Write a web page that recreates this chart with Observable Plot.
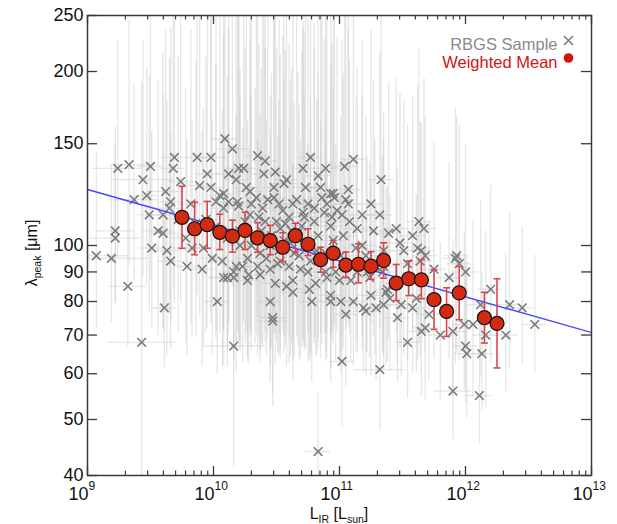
<!DOCTYPE html>
<html>
<head>
<meta charset="utf-8">
<script src="https://cdn.jsdelivr.net/npm/d3@7"></script>
<script src="https://cdn.jsdelivr.net/npm/@observablehq/plot@0.6"></script>
<style>
  html, body { margin: 0; padding: 0; background: white; }
  #chart { width: 617px; height: 524px; }
</style>
</head>
<body>
<div id="chart"></div>
<script>
// RBGS sample: [log10 L_IR, lambda_peak (um), upper lambda error (dex), L error (dex)]
const samples = [
[10.09,153,0.36,0.1],[10.15,147,0.34,0.12],[9.24,136,0.22,0.2],[9.33,138,0.25,0.15],[9.50,137,0.28,0.1],
[9.69,142,0.36,0.1],[9.87,142,0.34,0.08],[9.98,142,0.38,0.12],[9.68,136,0.3,0.1],[9.95,133,0.38,0.1],
[9.44,130,0.24,0.25],[9.74,129,0.3,0.1],[9.89,127,0.32,0.1],[9.62,124,0.28,0.15],[9.98,126,0.34,0.1],
[9.47,122,0.22,0.1],[9.37,120,0.2,0.2],[9.66,119,0.3,0.1],[9.65,116,0.26,0.12],[9.49,113,0.24,0.1],
[9.60,113,0.28,0.1],[9.22,106,0.18,0.15],[9.22,103,0.16,0.2],[9.56,106,0.26,0.12],[9.60,105,0.24,0.1],
[9.51,99,0.2,0.1],[9.63,98,0.26,0.1],[9.07,96,0.18,0.25],[9.19,95,0.16,0.3],[9.91,91,0.24,0.1],
[9.32,85,0.15,0.15],[10.12,133,0.4,0.1],[10.20,136,0.42,0.1],[10.08,123,0.34,0.08],[10.18,130,0.4,0.1],
[10.12,119,0.3,0.1],[10.20,117,0.34,0.12],[9.99,95,0.24,0.1],[10.07,94,0.26,0.1],[10.18,92,0.26,0.1],
[10.08,88,0.22,0.12],[10.16,88,0.2,0.1],[9.92,99,0.24,0.1],[9.83,99,0.22,0.15],[10.08,116,0.3,0.1],
[10.02,119,0.32,0.1],[10.05,122,0.34,0.1],[9.61,78,0.15,0.1],[9.43,68,0.45,0.27],[10.03,80,0.18,0.1],
[10.16,67,0.3,0.25],[10.45,80,0.2,0.1],[10.63,83,0.22,0.1],[10.47,75,0.22,0.1],[10.47,74,0.18,0.12],
[10.78,80,0.2,0.1],[10.93,82,0.18,0.1],[10.93,80,0.2,0.1],[11.01,80,0.18,0.1],[11.11,80,0.16,0.1],
[11.05,76,0.18,0.1],[11.21,77,0.16,0.1],[11.29,78,0.18,0.1],[11.35,79,0.16,0.1],[11.25,82,0.2,0.1],
[11.37,83,0.18,0.1],[11.02,63,0.16,0.1],[11.32,61,0.15,0.2],[10.83,44,0.1,0.1],[11.46,75,0.16,0.1],
[11.49,79,0.18,0.1],[11.58,78,0.16,0.15],[11.61,81,0.18,0.1],[11.71,76,0.16,0.1],[11.54,68,0.14,0.1],
[11.65,71,0.16,0.1],[11.68,72,0.18,0.1],[11.80,70,0.16,0.1],[11.90,71,0.16,0.1],[11.99,73,0.16,0.1],
[12.06,73,0.18,0.1],[12.00,67,0.14,0.1],[12.01,65,0.16,0.1],[12.13,65,0.14,0.1],[11.90,56,0.12,0.15],
[12.11,55,0.12,0.1],[12.16,70,0.18,0.1],[12.32,70,0.14,0.1],[12.35,79,0.16,0.1],[12.45,78,0.14,0.1],
[12.55,73,0.12,0.1],[12.12,79,0.18,0.1],[11.48,101,0.26,0.1],[11.58,104,0.24,0.1],[11.67,107,0.26,0.1],
[11.93,96,0.24,0.1],[12.00,90,0.22,0.1],[11.87,88,0.2,0.1],[12.20,84,0.18,0.1],[11.35,92,0.22,0.1],
[11.64,94,0.24,0.1],[11.46,86,0.2,0.1],[11.63,110,0.3,0.1],[11.45,107,0.26,0.1],[11.62,99,0.28,0.1],
[11.65,98,0.22,0.1],[11.68,96,0.24,0.1],[11.51,98,0.26,0.1],[11.92,95,0.26,0.1],[11.95,93,0.24,0.1],
[11.75,91,0.22,0.1],[11.54,93,0.24,0.1],[10.35,143,0.4,0.1],[10.41,140,0.42,0.1],[10.77,142,0.44,0.1],
[11.11,141,0.36,0.1],[10.71,136,0.42,0.1],[10.89,136,0.4,0.1],[10.83,132,0.4,0.1],[11.04,137,0.36,0.1],
[10.49,134,0.4,0.1],[10.40,133,0.36,0.1],[10.24,136,0.38,0.1],[10.56,128,0.38,0.1],[10.48,126,0.36,0.1],
[10.73,126,0.4,0.1],[11.07,125,0.32,0.1],[10.93,123,0.34,0.1],[10.96,121,0.32,0.1],[10.86,121,0.36,0.1],
[11.33,130,0.3,0.1],[11.25,118,0.3,0.1],[11.07,118,0.3,0.1],[10.34,121,0.34,0.1],[10.26,126,0.36,0.1],
[10.48,121,0.32,0.1],[10.63,118,0.34,0.1],[10.80,116,0.32,0.1],[11.32,113,0.28,0.1],[11.18,113,0.3,0.1],
[11.39,105,0.26,0.1],[11.02,113,0.3,0.1],[10.94,112,0.3,0.1],[10.71,114,0.32,0.1],[10.55,115,0.3,0.1],
[10.39,116,0.34,0.1],[10.27,95,0.24,0.1],[10.35,92,0.22,0.1],[10.45,91,0.24,0.1],[10.63,87,0.2,0.1],
[10.89,90,0.22,0.1],[11.00,87,0.2,0.1],[11.24,88,0.2,0.1],[11.34,90,0.2,0.1],[11.38,84,0.18,0.1],
[10.28,89,0.22,0.1],[10.49,86,0.2,0.1],[10.75,90,0.22,0.1],[11.14,90,0.2,0.1],[10.81,86,0.18,0.1],
[10.58,130,0.38,0.1],[10.95,123,0.34,0.1],[10.11,88,0.22,0.1],[10.16,90,0.22,0.1],[10.27,87,0.2,0.1],
[10.37,89,0.22,0.1],[10.51,93,0.22,0.1],[10.58,85,0.2,0.1],[10.76,84,0.18,0.1],[10.90,88,0.2,0.1],
[10.97,90,0.22,0.1],[11.09,87,0.2,0.1],[11.22,90,0.2,0.1],[11.40,81,0.18,0.1],[11.19,78,0.16,0.1],
[10.11,103,0.28,0.1],[10.21,100,0.26,0.1],[10.53,107,0.3,0.1],[10.72,112,0.32,0.1],[10.88,114,0.3,0.1],
[11.03,104,0.28,0.1],[11.14,107,0.28,0.1],[11.27,106,0.26,0.1],[11.35,98,0.24,0.1],[10.64,97,0.26,0.1],
[10.77,94,0.24,0.1],[10.19,119,0.32,0.1],[10.29,124,0.34,0.1],[9.82,118,0.3,0.1],[9.66,94,0.22,0.1],
[9.79,92,0.22,0.1],[10.29,113,0.3,0.1],[10.41,110,0.3,0.1],[10.57,109,0.3,0.1],[10.67,105,0.28,0.1],
[10.83,104,0.28,0.1],[10.93,108,0.28,0.1],[10.33,103,0.26,0.1],[10.45,100,0.26,0.1],[10.61,101,0.28,0.1],
[10.77,99,0.26,0.1],[10.89,97,0.24,0.1],[11.01,96,0.24,0.1],[11.13,99,0.26,0.1],[11.21,96,0.24,0.1],
[10.25,110,0.3,0.1],[10.53,94,0.24,0.1],[10.69,91,0.22,0.1],[10.85,94,0.24,0.1],[10.37,97,0.24,0.1],
[10.21,106,0.28,0.1],[9.94,111,0.28,0.1],[10.02,108,0.28,0.1],[9.86,109,0.28,0.1],[9.78,103,0.26,0.1],
[9.72,111,0.28,0.1],
[10.30,118,0.32,0.1],[10.36,112,0.3,0.1],[10.43,120,0.34,0.1],[10.50,110,0.3,0.1],[10.52,118,0.32,0.1],
[10.60,112,0.3,0.1],[10.66,120,0.34,0.1],[10.70,108,0.3,0.1],[10.75,118,0.32,0.1],[10.80,110,0.3,0.1],
[10.85,126,0.36,0.1],[10.90,118,0.32,0.1],[10.98,115,0.3,0.1],[11.05,120,0.32,0.1],[10.38,106,0.28,0.1],
[10.46,104,0.28,0.1],[10.56,102,0.28,0.1],[10.62,106,0.28,0.1],[10.72,100,0.26,0.1],[10.82,98,0.26,0.1],
[10.42,95,0.24,0.1],[10.52,98,0.26,0.1],[10.68,96,0.26,0.1],[10.95,102,0.26,0.1],[11.08,110,0.28,0.1],
[11.18,100,0.26,0.1],[11.28,92,0.22,0.1],[10.30,100,0.26,0.1],[10.23,92,0.24,0.1],[10.60,92,0.24,0.1]
];
// lower error bars are shorter than upper ones (in dex)
const lowerErrRatio = 0.7;

// Weighted means
const meanLogL = [9.75,9.85,9.95,10.05,10.15,10.25,10.35,10.45,10.55,10.65,10.75,10.85,10.95,11.05,11.15,11.25,11.35,11.45,11.55,11.65,11.75,11.85,11.95,12.15,12.25];
const meanLam  = [111.9,106.9,108.7,105.4,103.8,106.2,103.1,102.0,99.3,104.0,100.5,94.5,97.0,92.5,92.8,92.1,94.2,86.1,87.6,87.2,80.6,76.9,82.8,75.0,73.3];
const meanHi   = [126.6,118.8,119.2,113.3,110.6,114.2,109.5,108.3,105.2,109.3,106.9,99.3,102.0,97.4,100.7,97.6,101.1,92.7,94.0,94.5,90.8,84.5,92.0,83.0,87.6];
const meanLo   = [98.9,96.4,98.9,98.4,97.4,98.4,97.4,96.4,93.8,97.4,96.1,89.9,91.7,88.0,86.2,87.4,87.8,80.3,81.9,80.9,71.6,69.6,74.4,67.8,61.4];

// Power-law fit
const fitL = [1e9, 1e13];
const fitLam = [125.0, 70.7];

// Ticks
const xMajorExp = [9, 10, 11, 12, 13];
const xMinorMult = [2, 3, 4, 5, 6, 7, 8, 9];
const yTicks = [40, 50, 60, 70, 80, 90, 100, 150, 200, 250];

// derived tables
const pts = samples.map(([l, lam, e, el]) => ({
  L: 10 ** l, lam,
  lo: lam / 10 ** (e * lowerErrRatio), hi: lam * 10 ** e,
  L1: 10 ** (l - el), L2: 10 ** (l + el)
}));
const means = meanLogL.map((l, i) => ({L: 10 ** l, lam: meanLam[i], lo: meanLo[i], hi: meanHi[i]}));
const fit = fitL.map((L, i) => ({L, lam: fitLam[i]}));
const xMajor = xMajorExp.map(e => ({v: 10 ** e, e}));
const xMinor = xMajorExp.slice(0, -1).flatMap(e => xMinorMult.map(m => m * 10 ** e));

const capSymbol = {
  draw(ctx, size) {
    const w = Math.sqrt(size / Math.PI);
    ctx.moveTo(-w, 0); ctx.lineTo(w, 0);
  }
};

const W = 617, H = 524, mL = 87, mR = 26, mT = 15, mB = 49;
const fw = W - mL - mR, fh = H - mT - mB;
const red = "#d42a12";
const errRed = "#d8474f";
const font = "'Liberation Sans', Arial, Helvetica, sans-serif";

const plot = Plot.plot({
  width: W, height: H,
  marginLeft: mL, marginRight: mR, marginTop: mT, marginBottom: mB,
  x: {type: "log", domain: [1e9, 1e13], axis: null},
  y: {type: "log", domain: [40, 250], axis: null},
  style: {background: "white", fontFamily: font, overflow: "visible"},
  marks: [
    // gray error bars
    Plot.ruleX(pts, {x: "L", y1: "lo", y2: "hi", stroke: "#c8c8c8", strokeOpacity: 0.45, strokeWidth: 1.3, clip: true}),
    Plot.ruleY(pts, {y: "lam", x1: "L1", x2: "L2", stroke: "#c8c8c8", strokeOpacity: 0.45, strokeWidth: 1.3, clip: true}),
    // gray samples
    Plot.dot(pts, {x: "L", y: "lam", symbol: "times", r: 4, stroke: "#7c7c7c", strokeWidth: 1.6}),
    // fit line
    Plot.line(fit, {x: "L", y: "lam", stroke: "#4646ff", strokeWidth: 1.4, clip: true}),
    // weighted mean error bars
    Plot.ruleX(means, {x: "L", y1: "lo", y2: "hi", stroke: errRed, strokeWidth: 1.6}),
    Plot.dot(means, {x: "L", y: "lo", symbol: capSymbol, r: 3.5, stroke: errRed, strokeWidth: 1.6}),
    Plot.dot(means, {x: "L", y: "hi", symbol: capSymbol, r: 3.5, stroke: errRed, strokeWidth: 1.6}),
    Plot.dot(means, {x: "L", y: "lam", r: 7, fill: red, stroke: "#111", strokeWidth: 1.2}),
    // frame
    Plot.frame({stroke: "#3a3a3a", strokeWidth: 1.5}),
    // inward ticks
    Plot.tickX(xMajor, {x: "v", insetTop: fh - 9, stroke: "#3a3a3a", strokeWidth: 1.3}),
    Plot.tickX(xMajor, {x: "v", insetBottom: fh - 9, stroke: "#3a3a3a", strokeWidth: 1.3}),
    Plot.tickX(xMinor, {x: d => d, insetTop: fh - 4.5, stroke: "#3a3a3a", strokeWidth: 1.2}),
    Plot.tickX(xMinor, {x: d => d, insetBottom: fh - 4.5, stroke: "#3a3a3a", strokeWidth: 1.2}),
    Plot.tickY(yTicks, {y: d => d, insetRight: fw - 10, stroke: "#3a3a3a", strokeWidth: 1.3}),
    Plot.tickY(yTicks, {y: d => d, insetLeft: fw - 10, stroke: "#3a3a3a", strokeWidth: 1.3}),
    // tick labels
    Plot.text(yTicks, {y: d => d, frameAnchor: "left", dx: -4, textAnchor: "end", text: d => String(d), fontSize: 18, fill: "#111"}),
    Plot.text(xMajor, {x: "v", frameAnchor: "bottom", dy: 24, textAnchor: "end", dx: 1, text: () => "10", fontSize: 18, fill: "#111"}),
    Plot.text(xMajor, {x: "v", frameAnchor: "bottom", dy: 14, textAnchor: "start", dx: 1, text: d => String(d.e), fontSize: 12, fill: "#111"}),
    // legend
    Plot.text(["RBGS Sample"], {frameAnchor: "top-right", dx: -34, dy: 23, textAnchor: "end", text: d => d, fontSize: 16.5, fill: "#8a8a8a"}),
    Plot.dot([0], {frameAnchor: "top-right", dx: -23, dy: 25, symbol: "times", r: 4.2, stroke: "#7c7c7c", strokeWidth: 1.6}),
    Plot.text(["Weighted Mean"], {frameAnchor: "top-right", dx: -34, dy: 41, textAnchor: "end", text: d => d, fontSize: 16.5, fill: "#d01414"}),
    Plot.dot([0], {frameAnchor: "top-right", dx: -23, dy: 42.5, r: 4.8, fill: "#d01414"})
  ]
});

const svg = d3.select(plot);
// x axis title
const xt = svg.append("text")
  .attr("x", mL + fw / 2).attr("y", 519)
  .attr("text-anchor", "middle")
  .style("font-family", font).style("font-size", "16px").attr("fill", "#111");
xt.append("tspan").text("L");
xt.append("tspan").attr("dy", 4).style("font-size", "10.5px").text("IR");
xt.append("tspan").attr("dy", -4).text(" [L");
xt.append("tspan").attr("dy", 4).style("font-size", "10.5px").text("sun");
xt.append("tspan").attr("dy", -4).text("]");
// y axis title
const yt = svg.append("text")
  .attr("transform", `translate(37,${mT + fh / 2 + 8}) rotate(-90)`)
  .attr("text-anchor", "middle")
  .style("font-family", font).style("font-size", "16px").attr("fill", "#111");
yt.append("tspan").text("λ");
yt.append("tspan").attr("dy", 4).style("font-size", "10.5px").text("peak");
yt.append("tspan").attr("dy", -4).text(" [μm]");

document.getElementById("chart").appendChild(plot);
</script>
</body>
</html>
